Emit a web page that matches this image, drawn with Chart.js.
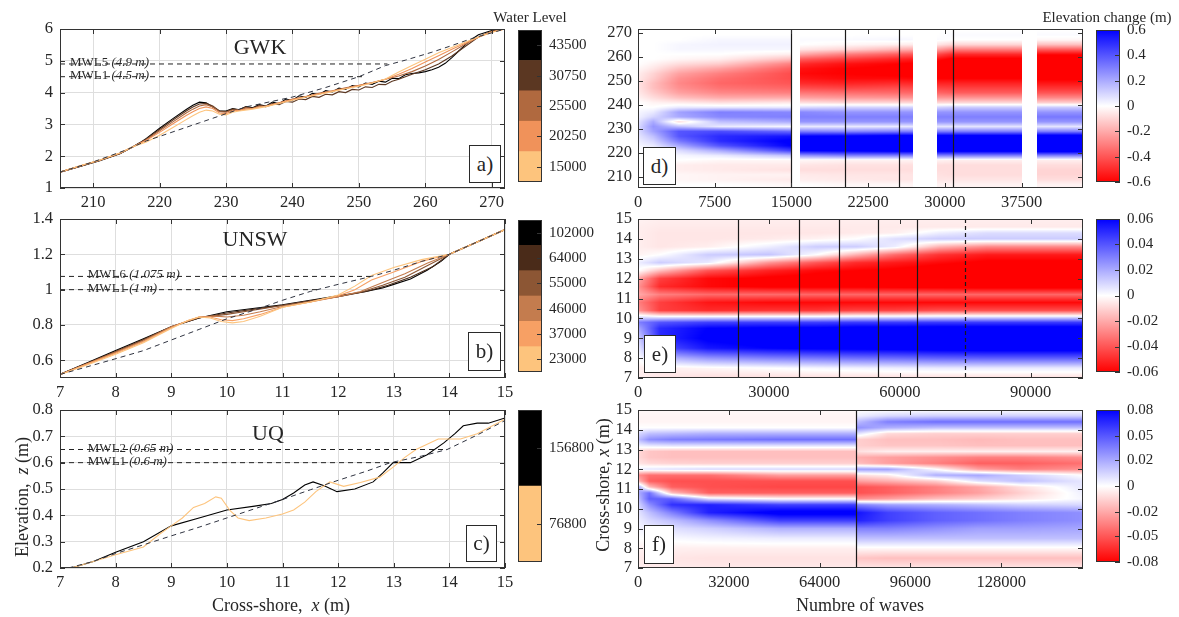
<!DOCTYPE html>
<html>
<head>
<meta charset="utf-8">
<title>Profile evolution and elevation change</title>
<script src="https://cdn.jsdelivr.net/npm/chart.js@4.4.1/dist/chart.umd.min.js"></script>
<style>
  html, body { margin: 0; padding: 0; background: #fff; }
  body { position: relative; width: 1179px; height: 617px; overflow: hidden;
         font-family: "Liberation Serif", "Times New Roman", serif; color: #262626; }
  canvas { position: absolute; }
  .lbl { position: absolute; z-index: 5; white-space: nowrap; line-height: 1; transform: translate(-50%, -50%); }
  .rot { transform: translate(-50%, -50%) rotate(-90deg); }
  .tag { position: absolute; z-index: 5; box-sizing: border-box; border: 1.3px solid #2a2a2a; background: #fff;
         font-size: 21px; line-height: 1; display: flex; align-items: center; justify-content: center; }
</style>
</head>
<body>
<div class="lbl" style="left:530px;top:17px;font-size:15px">Water Level</div>
<div class="lbl" style="left:1107px;top:17px;font-size:15px">Elevation change (m)</div>
<div class="lbl" style="left:260px;top:47px;font-size:22px">GWK</div>
<div class="lbl" style="left:255px;top:239px;font-size:22px">UNSW</div>
<div class="lbl" style="left:268px;top:433px;font-size:22px">UQ</div>
<div class="lbl" style="left:281px;top:605px;font-size:18px">Cross-shore,&nbsp; <i>x</i> (m)</div>
<div class="lbl" style="left:860px;top:605px;font-size:18px">Numbre of waves</div>
<div class="lbl rot" style="left:22px;top:497px;font-size:18px">Elevation,&nbsp; <i>z</i> (m)</div>
<div class="lbl rot" style="left:603px;top:485px;font-size:18px">Cross-shore, <i>x</i> (m)</div>
<div class="tag" style="left:469px;top:145px;width:32px;height:38px">a)</div>
<div class="tag" style="left:468px;top:332px;width:33px;height:39px">b)</div>
<div class="tag" style="left:466px;top:525px;width:31px;height:37px">c)</div>
<div class="tag" style="left:643px;top:147px;width:33px;height:38px">d)</div>
<div class="tag" style="left:644px;top:335px;width:32px;height:38px">e)</div>
<div class="tag" style="left:644px;top:525px;width:30px;height:39px">f)</div>

<script>
// === PANEL a : GWK profiles (x in m, z in m) ===
const aLevels = ['15000', '20250', '25500', '30750', '43500'];
const aColors = ['#fdc47d', '#f0925a', '#b0693f', '#5b3722', '#000000'];
const aXTicks = [210, 220, 230, 240, 250, 260, 270];
const aYTicks = [1, 2, 3, 4, 5, 6];
const aMwlLevels = [4.9, 4.5];
const aMwlEnds = [254.3, 251];
const aMwlNames = ['MWL5', 'MWL1'];
const aMwlText = ['4.9 m', '4.5 m'];
const aInit = [[205,1.5],[210,1.82],[215,2.2],[218,2.48],[226,3.05],[233,3.55],[240,3.86],[245,4.16],[250,4.5],[254,4.85],[257,5.02],[261,5.27],[264,5.48],[267,5.7],[272,6.0]];
const a15000 = [[205,1.5],[208,1.7],[211,1.88],[214,2.1],[216,2.3],[218,2.45],[220,2.66],[222,2.9],[224,3.15],[225,3.27],[226,3.38],[227,3.45],[228,3.42],[229,3.32],[230,3.3],[231,3.38],[232,3.42],[234,3.48],[236,3.56],[238,3.66],[240,3.76],[242,3.86],[244,3.94],[246,4.03],[248,4.12],[250,4.2],[252,4.3],[254,4.43],[256,4.65],[258,4.85],[260,5.05],[262,5.25],[264,5.42],[266,5.58],[268,5.75],[270,5.9],[272,6.0]];
const a20250 = [[205,1.5],[208,1.69],[211,1.87],[214,2.09],[216,2.3],[218,2.5],[220,2.75],[222,3.02],[224,3.28],[225,3.4],[226,3.5],[227,3.55],[228,3.5],[229,3.36],[230,3.34],[231,3.42],[232,3.45],[234,3.5],[236,3.58],[238,3.68],[240,3.78],[242,3.87],[244,3.96],[246,4.05],[248,4.13],[250,4.22],[252,4.31],[254,4.42],[256,4.58],[258,4.76],[260,4.96],[262,5.16],[264,5.36],[266,5.55],[268,5.74],[270,5.9],[272,6.0]];
const a25500 = [[205,1.5],[208,1.69],[211,1.87],[214,2.09],[216,2.3],[218,2.52],[220,2.8],[222,3.08],[224,3.36],[225,3.48],[226,3.58],[227,3.62],[228,3.55],[229,3.4],[230,3.38],[231,3.45],[232,3.44],[233,3.52],[234,3.5],[235,3.58],[236,3.56],[238,3.68],[240,3.8],[242,3.88],[244,3.98],[246,4.06],[248,4.15],[250,4.23],[252,4.32],[254,4.42],[256,4.52],[258,4.66],[260,4.84],[262,5.04],[264,5.28],[266,5.52],[268,5.75],[270,5.92],[272,6.0]];
const a30750 = [[205,1.5],[208,1.68],[211,1.87],[214,2.08],[216,2.3],[218,2.54],[220,2.84],[222,3.14],[224,3.42],[225,3.55],[226,3.64],[227,3.66],[228,3.58],[229,3.42],[230,3.4],[231,3.48],[232,3.45],[233,3.55],[234,3.5],[235,3.6],[236,3.56],[237,3.66],[238,3.62],[239,3.72],[240,3.7],[241,3.8],[242,3.78],[243,3.88],[244,3.85],[245,3.95],[246,3.93],[247,4.03],[248,4.0],[249,4.1],[250,4.08],[251,4.18],[252,4.16],[253,4.26],[254,4.25],[255,4.36],[256,4.42],[257,4.5],[258,4.58],[260,4.72],[262,4.9],[264,5.15],[266,5.45],[268,5.75],[270,5.93],[272,6.0]];
const a43500 = [[205,1.5],[208,1.68],[211,1.86],[214,2.08],[216,2.3],[217,2.42],[218,2.56],[220,2.88],[222,3.18],[224,3.47],[225,3.6],[226,3.7],[227,3.68],[228,3.55],[229,3.42],[230,3.42],[231,3.5],[232,3.46],[233,3.56],[234,3.52],[235,3.62],[236,3.58],[237,3.7],[238,3.65],[239,3.8],[240,3.76],[241,3.9],[242,3.85],[243,3.98],[244,3.94],[245,4.06],[246,4.02],[247,4.14],[248,4.1],[249,4.22],[250,4.18],[251,4.3],[252,4.26],[253,4.36],[254,4.33],[255,4.45],[256,4.44],[257,4.56],[258,4.6],[259,4.62],[260,4.66],[261,4.72],[262,4.8],[263,4.92],[264,5.1],[265,5.3],[266,5.5],[267,5.68],[268,5.82],[270,5.95],[272,6.0]];

// === PANEL b : UNSW profiles ===
const bLevels = ['23000', '37000', '46000', '55000', '64000', '102000'];
const bColors = ['#fdc47d', '#f7a064', '#c47c4e', '#8c5634', '#4a2b19', '#000000'];
const bXTicks = [7, 8, 9, 10, 11, 12, 13, 14, 15];
const bYTicks = [0.6, 0.8, 1, 1.2, 1.4];
const bMwlLevels = [1.075, 1.0];
const bMwlEnds = [12.58, 11.68];
const bMwlNames = ['MWL6', 'MWL1'];
const bMwlText = ['1.075 m', '1 m'];
const bInit = [[7,0.52],[7.9,0.6],[8.5,0.655],[9,0.715],[9.5,0.775],[10,0.835],[10.5,0.885],[11,0.94],[11.5,0.99],[12,1.03],[12.6,1.075],[13,1.11],[13.5,1.16],[14,1.2],[14.5,1.27],[15,1.34]];
const b23000 = [[7,0.52],[7.5,0.575],[8,0.635],[8.5,0.7],[9,0.78],[9.3,0.825],[9.5,0.845],[9.7,0.84],[9.9,0.82],[10.1,0.812],[10.3,0.82],[10.6,0.85],[11,0.9],[11.5,0.93],[12,0.97],[12.3,1.02],[12.6,1.08],[13,1.125],[13.5,1.17],[14,1.2],[14.5,1.27],[15,1.34]];
const b37000 = [[7,0.52],[7.5,0.58],[8,0.64],[8.5,0.705],[9,0.785],[9.3,0.825],[9.5,0.845],[9.7,0.845],[9.9,0.83],[10.1,0.825],[10.3,0.835],[10.6,0.86],[11,0.9],[11.5,0.93],[12,0.965],[12.3,1.0],[12.6,1.055],[13,1.1],[13.5,1.16],[14,1.2],[14.5,1.27],[15,1.34]];
const b46000 = [[7,0.52],[7.5,0.582],[8,0.645],[8.5,0.71],[9,0.79],[9.5,0.845],[9.8,0.85],[10,0.845],[10.3,0.855],[10.6,0.875],[11,0.905],[11.5,0.93],[12,0.96],[12.4,0.99],[12.8,1.04],[13.2,1.09],[13.6,1.15],[14,1.2],[14.5,1.27],[15,1.34]];
const b55000 = [[7,0.52],[7.5,0.584],[8,0.648],[8.5,0.715],[9,0.79],[9.5,0.842],[10,0.86],[10.5,0.885],[11,0.91],[11.5,0.935],[12,0.96],[12.4,0.985],[12.8,1.025],[13.2,1.07],[13.6,1.135],[14,1.2],[14.5,1.27],[15,1.34]];
const b64000 = [[7,0.52],[7.5,0.585],[8,0.65],[8.5,0.718],[9,0.79],[9.5,0.84],[10,0.868],[10.5,0.89],[11,0.912],[11.5,0.937],[12,0.96],[12.5,0.99],[12.9,1.025],[13.3,1.07],[13.7,1.13],[14,1.2],[14.5,1.27],[15,1.34]];
const b102000 = [[7,0.52],[7.5,0.587],[8,0.655],[8.5,0.722],[9,0.79],[9.5,0.84],[10,0.875],[10.5,0.895],[11,0.915],[11.5,0.94],[12,0.965],[12.5,0.99],[12.8,1.01],[13,1.03],[13.3,1.06],[13.6,1.11],[13.85,1.16],[14,1.2],[14.5,1.27],[15,1.34]];

// === PANEL c : UQ profiles ===
const cLevels = ['76800', '156800'];
const cColors = ['#fdc47d', '#000000'];
const cXTicks = [7, 8, 9, 10, 11, 12, 13, 14, 15];
const cYTicks = [0.2, 0.3, 0.4, 0.5, 0.6, 0.7, 0.8];
const cMwlLevels = [0.65, 0.6];
const cMwlEnds = [13.96, 12.94];
const cMwlNames = ['MWL2', 'MWL1'];
const cMwlText = ['0.65 m', '0.6 m'];
const cInit = [[7.15,0.2],[7.6,0.225],[8,0.255],[8.5,0.288],[9,0.322],[9.5,0.355],[10,0.39],[10.5,0.425],[11,0.46],[11.5,0.497],[12,0.533],[12.5,0.567],[12.94,0.6],[13.5,0.625],[13.96,0.65],[14.5,0.705],[15,0.76]];
const c76800 = [[7.2,0.2],[7.6,0.225],[8,0.25],[8.5,0.28],[8.8,0.33],[9,0.36],[9.2,0.39],[9.4,0.43],[9.6,0.445],[9.8,0.47],[9.9,0.465],[10.05,0.42],[10.2,0.39],[10.4,0.38],[10.7,0.39],[11,0.405],[11.2,0.42],[11.4,0.45],[11.6,0.49],[11.85,0.527],[12.1,0.51],[12.4,0.525],[12.75,0.545],[13,0.585],[13.2,0.62],[13.4,0.65],[13.8,0.69],[14.2,0.69],[14.5,0.71],[15,0.765]];
const c156800 = [[7.2,0.2],[7.6,0.225],[8,0.26],[8.5,0.3],[9,0.36],[9.5,0.39],[10,0.42],[10.5,0.435],[10.8,0.445],[11,0.46],[11.2,0.485],[11.4,0.515],[11.55,0.527],[11.75,0.512],[11.98,0.49],[12.3,0.5],[12.63,0.527],[12.8,0.56],[12.99,0.6],[13.3,0.6],[13.6,0.63],[13.9,0.675],[14.1,0.71],[14.25,0.74],[14.5,0.75],[14.7,0.75],[15,0.77]];

// === PANEL d : GWK elevation change, profiles (rows = cross-shore) at given wave counts ===
const dXTicks = [0, 7500, 15000, 22500, 30000, 37500];
const dYTicks = [210, 220, 230, 240, 250, 260, 270];
const dRows = [207,209,211,213,215,217,219,221,223,225,227,229,231,233,235,237,239,241,243,245,247,249,251,253,255,257,259,261,263,265,267,269,271];
const dP0 = [0,0,0,0,0,0,0,0,0.02,0.04,0.06,0.08,0.08,0.06,0.03,0.02,0,0,-0.03,-0.05,-0.06,-0.06,-0.05,-0.04,-0.02,0,0,0,0,0,0,0,0];
const dP1 = [0,0,0,-0.02,-0.02,0,0,0.02,0.05,0.1,0.15,0.22,0.25,0.2,0.1,0.05,0,-0.03,-0.08,-0.12,-0.15,-0.15,-0.12,-0.1,-0.06,-0.03,0,0,0,0,0,0,0];
const dP2 = [0,-0.02,-0.02,-0.04,-0.04,0,0.02,0.08,0.2,0.32,0.4,0.4,0.15,-0.08,0.2,0.22,0.05,-0.05,-0.15,-0.22,-0.26,-0.28,-0.26,-0.22,-0.15,-0.08,-0.02,0,0.02,0.02,0,0,0];
const dP3 = [0,-0.03,-0.03,-0.05,-0.05,-0.02,0.05,0.2,0.4,0.5,0.5,0.42,0.05,0.15,0.28,0.3,0.05,-0.08,-0.2,-0.28,-0.33,-0.36,-0.34,-0.3,-0.22,-0.12,-0.04,0,0.02,0.03,0.02,0,0];
const dP4 = [-0.02,-0.05,-0.03,-0.07,-0.05,-0.02,0.15,0.45,0.6,0.62,0.55,0.35,0.02,0.2,0.3,0.28,0.05,-0.06,-0.2,-0.3,-0.36,-0.4,-0.42,-0.42,-0.38,-0.3,-0.15,-0.04,0.02,0.03,0.02,0,0];
const dP5 = [0,-0.04,-0.05,-0.08,-0.06,-0.02,0.25,0.6,0.7,0.7,0.6,0.3,0.05,0.25,0.3,0.28,0.08,-0.08,-0.22,-0.32,-0.42,-0.5,-0.55,-0.58,-0.56,-0.5,-0.38,-0.2,-0.06,0,0.01,0,0];
const dP6 = [-0.02,-0.05,-0.06,-0.08,-0.07,-0.03,0.3,0.62,0.72,0.72,0.62,0.28,0.05,0.25,0.3,0.25,0.1,-0.1,-0.24,-0.34,-0.44,-0.52,-0.58,-0.6,-0.6,-0.56,-0.45,-0.3,-0.1,-0.02,0.01,0,0];
const dP7 = [-0.02,-0.06,-0.06,-0.08,-0.07,-0.03,0.3,0.65,0.75,0.75,0.65,0.3,0.05,0.25,0.3,0.25,0.1,-0.1,-0.25,-0.35,-0.42,-0.5,-0.58,-0.62,-0.62,-0.6,-0.52,-0.38,-0.18,-0.04,0.02,0,0];
const dP8 = [-0.03,-0.06,-0.07,-0.08,-0.08,-0.03,0.3,0.65,0.76,0.76,0.65,0.3,0.06,0.25,0.3,0.25,0.1,-0.1,-0.25,-0.36,-0.44,-0.52,-0.6,-0.64,-0.65,-0.64,-0.56,-0.42,-0.22,-0.06,0.01,0,0];
const dP9 = [-0.03,-0.06,-0.08,-0.08,-0.08,-0.04,0.3,0.65,0.78,0.78,0.65,0.3,0.06,0.25,0.3,0.25,0.12,-0.1,-0.25,-0.38,-0.45,-0.52,-0.6,-0.65,-0.68,-0.68,-0.62,-0.5,-0.3,-0.1,0,0.01,0];
const dP10 = [-0.03,-0.08,-0.1,-0.1,-0.08,-0.04,0.3,0.68,0.8,0.8,0.68,0.3,0.06,0.25,0.32,0.25,0.12,-0.12,-0.28,-0.4,-0.48,-0.55,-0.62,-0.68,-0.72,-0.72,-0.68,-0.58,-0.38,-0.15,-0.02,0.01,0];
const dTimes = [0, 1500, 4000, 8000, 15000, 15800, 20250, 25500, 29200, 30750, 37500, 39000, 43500];
const dGrid = [dP0, dP1, dP2, dP3, dP4, dP5, dP6, dP7, dP8, dP9, dP9, dP10, dP10];
const dGaps = [[15000, 15800], [26900, 29200], [37500, 39000]];
const dLines = [15000, 20250, 25500, 30750];
const dDashed = [];
const dCbTicks = [-0.6, -0.4, -0.2, 0, 0.2, 0.4, 0.6];
const dCbLabels = ['-0.6', '-0.4', '-0.2', '0', '0.2', '0.4', '0.6'];

// === PANEL e : UNSW elevation change ===
const eXTicks = [0, 30000, 60000, 90000];
const eYTicks = [7, 8, 9, 10, 11, 12, 13, 14, 15];
const eRows = [7.0,7.5,8.0,8.5,9.0,9.5,9.8,10.1,10.4,10.8,11.2,11.6,12.0,12.4,12.8,13.2,13.6,14.0,14.3,14.6,15.0];
const eP0 = [-0.004,-0.004,0,0.004,0.01,0.02,0.03,0.005,-0.025,-0.03,-0.02,-0.025,-0.02,0.0,0.004,-0.003,-0.004,-0.004,-0.004,-0.004,-0.003];
const eP1 = [-0.006,-0.004,0.015,0.04,0.05,0.05,0.04,0.0,-0.045,-0.045,-0.03,-0.05,-0.045,-0.015,0.012,0.0,-0.006,-0.006,-0.006,-0.005,-0.004];
const eP2 = [-0.008,-0.002,0.025,0.055,0.062,0.06,0.045,0.0,-0.05,-0.055,-0.035,-0.058,-0.058,-0.04,0.005,0.012,-0.004,-0.006,-0.006,-0.005,-0.004];
const eP3 = [-0.008,0.0,0.03,0.06,0.066,0.062,0.045,0.0,-0.048,-0.058,-0.035,-0.062,-0.062,-0.052,-0.025,0.014,0.004,-0.005,-0.006,-0.005,-0.004];
const eP4 = [-0.008,0.002,0.032,0.062,0.068,0.062,0.045,0.0,-0.048,-0.058,-0.036,-0.062,-0.064,-0.058,-0.04,0.0,0.012,-0.003,-0.006,-0.005,-0.004];
const eP5 = [-0.008,0.003,0.034,0.063,0.068,0.064,0.046,0.002,-0.045,-0.058,-0.036,-0.062,-0.065,-0.06,-0.05,-0.018,0.012,0.0,-0.005,-0.005,-0.004];
const eP6 = [-0.008,0.004,0.035,0.064,0.07,0.064,0.046,0.002,-0.045,-0.058,-0.036,-0.063,-0.066,-0.062,-0.054,-0.035,0.004,0.008,-0.004,-0.005,-0.004];
const eP7 = [-0.008,0.005,0.037,0.066,0.07,0.065,0.046,0.003,-0.042,-0.058,-0.036,-0.064,-0.068,-0.066,-0.058,-0.048,-0.018,0.012,0.004,-0.005,-0.004];
const eP8 = [-0.008,0.005,0.038,0.067,0.072,0.065,0.046,0.003,-0.042,-0.058,-0.036,-0.065,-0.07,-0.068,-0.062,-0.054,-0.028,0.012,0.008,-0.005,-0.004];
const eTimes = [0, 5000, 16000, 30000, 41000, 50000, 59000, 69000, 80000, 102000];
const eGrid = [eP0, eP1, eP2, eP3, eP4, eP5, eP6, eP7, eP8, eP8];
const eGaps = [];
const eLines = [23000, 37000, 46000, 55000, 64000, 75000];
const eDashed = [75000];
const eCbTicks = [-0.06, -0.04, -0.02, 0, 0.02, 0.04, 0.06];
const eCbLabels = ['-0.06', '-0.04', '-0.02', '0', '0.02', '0.04', '0.06'];

// === PANEL f : UQ elevation change ===
const fXTicks = [0, 32000, 64000, 96000, 128000];
const fYTicks = [7, 8, 9, 10, 11, 12, 13, 14, 15];
const fRows = [7.0,7.5,8.0,8.5,9.0,9.4,9.8,10.2,10.5,10.8,11.1,11.4,11.7,12.0,12.3,12.6,12.9,13.2,13.5,13.8,14.1,14.4,14.7,15.0];
const fP0 = [-0.005,-0.006,-0.004,0,0.003,0.005,0.008,0.012,0.018,0.025,0.03,-0.02,-0.035,0.005,-0.008,-0.012,-0.012,0.005,0.02,0.012,0,-0.003,-0.003,-0.002];
const fP1 = [-0.006,-0.008,-0.005,0,0.006,0.012,0.02,0.035,0.05,0.045,-0.02,-0.05,-0.045,0.008,-0.012,-0.018,-0.018,0.008,0.035,0.02,0,-0.003,-0.003,-0.002];
const fP2 = [-0.006,-0.008,-0.005,0.002,0.01,0.02,0.04,0.065,0.05,-0.02,-0.05,-0.055,-0.045,0.01,-0.014,-0.02,-0.02,0.01,0.04,0.022,0,-0.003,-0.003,-0.002];
const fP3 = [-0.007,-0.009,-0.005,0.004,0.015,0.035,0.07,0.07,0.01,-0.05,-0.055,-0.055,-0.045,0.012,-0.015,-0.02,-0.02,0.01,0.042,0.025,0,-0.003,-0.003,-0.002];
const fP4 = [-0.007,-0.009,-0.005,0.006,0.025,0.06,0.085,0.06,0.0,-0.05,-0.058,-0.055,-0.03,0.012,-0.015,-0.02,-0.02,0.01,0.045,0.025,0,-0.003,-0.003,-0.002];
const fP5 = [-0.008,-0.018,-0.002,0.02,0.04,0.07,0.075,0.04,-0.035,-0.055,-0.055,-0.03,-0.01,0.03,-0.02,-0.025,-0.01,-0.015,-0.015,0.01,0.035,0.02,0.005,0];
const fP6 = [-0.008,-0.02,-0.002,0.02,0.04,0.06,0.06,0.03,-0.03,-0.05,-0.05,-0.025,-0.005,0.03,-0.03,-0.03,-0.005,-0.018,-0.02,-0.012,0.025,0.04,0.012,0];
const fP7 = [-0.008,-0.02,-0.002,0.02,0.035,0.05,0.05,0.025,-0.02,-0.04,-0.04,-0.015,0.025,0.0,-0.04,-0.035,-0.005,-0.018,-0.02,-0.015,0.02,0.045,0.015,0];
const fP8 = [-0.008,-0.02,-0.002,0.02,0.03,0.045,0.045,0.02,-0.015,-0.03,-0.028,0.01,0.028,-0.03,-0.05,-0.04,-0.005,-0.02,-0.022,-0.015,0.02,0.045,0.015,0];
const fP9 = [-0.008,-0.02,-0.002,0.02,0.03,0.04,0.04,0.015,-0.008,-0.015,-0.01,0.02,0.015,-0.04,-0.05,-0.04,-0.005,-0.02,-0.02,-0.015,0.02,0.045,0.015,0];
const fP10 = [-0.008,-0.02,-0.002,0.02,0.028,0.035,0.035,0.012,0.003,0.005,0.008,0.008,0.0,-0.035,-0.045,-0.035,-0.005,-0.02,-0.02,-0.015,0.02,0.045,0.015,0];
const fTimes = [0, 4000, 12000, 25000, 50000, 76800, 76800, 88000, 105000, 120000, 135000, 156800];
const fGrid = [fP0, fP1, fP2, fP3, fP4, fP4, fP5, fP6, fP7, fP8, fP9, fP10];
const fGaps = [];
const fLines = [76800];
const fDashed = [];
const fCbTicks = [-0.08, -0.053, -0.027, 0, 0.027, 0.053, 0.08];
const fCbLabels = ['-0.08', '-0.05', '-0.02', '0', '0.02', '0.05', '0.08'];

// === LAYOUT (plot-area rectangles in page pixels: left, top, right, bottom) ===
const AREA = {
  a: [60, 29, 505, 188], b: [60, 219, 505, 378], c: [60, 410, 505, 568],
  d: [638, 29, 1083, 188], e: [638, 219, 1083, 378], f: [638, 410, 1083, 568],
  ca: [518, 30, 542, 188], cb: [518, 220, 542, 378], cc: [518, 410, 542, 568],
  cd: [1096, 30, 1120, 188], ce: [1096, 219, 1120, 378], cf: [1096, 410, 1120, 568]
};
const PANEL_M = [60, 22, 16, 32];   // room for y labels, top, right, x labels
const BAR_M = [4, 22, 62, 10];
const TICK_FONT = { family: 'Liberation Serif', size: 16.5 };
const BAR_FONT = { family: 'Liberation Serif', size: 15 };
const FRAME_COLOR = '#333';

Chart.defaults.font.family = 'Liberation Serif';
Chart.defaults.color = '#262626';

// === HELPERS ===
function makeCanvas(area, m) {
  const c = document.createElement('canvas');
  c.width = area[2] - area[0] + m[0] + m[2];
  c.height = area[3] - area[1] + m[1] + m[3];
  c.style.left = (area[0] - m[0]) + 'px';
  c.style.top = (area[1] - m[1]) + 'px';
  document.body.appendChild(c);
  return c;
}

const toXY = pts => pts.map(p => ({ x: p[0], y: p[1] }));

function heatRGB(t) {
  t = Math.max(-1, Math.min(1, t));
  if (t >= 0) { const k = Math.round(255 * (1 - t)); return [k, k, 255]; }
  const k = Math.round(255 * (1 + t));
  return [255, k, k];
}
const heatCss = t => 'rgb(' + heatRGB(t).join(',') + ')';

// box round the plot area with inward tick marks (MATLAB style)
function framePlugin(sides) {
  return {
    id: 'frame',
    afterDraw(chart) {
      const { ctx, chartArea: a, scales } = chart;
      const L = 5;
      ctx.save();
      ctx.strokeStyle = FRAME_COLOR;
      ctx.lineWidth = 1;
      ctx.strokeRect(Math.round(a.left) + 0.5, Math.round(a.top) + 0.5,
                     Math.round(a.right - a.left) - 1, Math.round(a.bottom - a.top) - 1);
      ctx.beginPath();
      if (sides.x) {
        scales.x.ticks.forEach(t => {
          const px = Math.round(scales.x.getPixelForValue(t.value)) + 0.5;
          ctx.moveTo(px, a.bottom); ctx.lineTo(px, a.bottom - L);
          ctx.moveTo(px, a.top); ctx.lineTo(px, a.top + L);
        });
      }
      scales.y.ticks.forEach(t => {
        const py = Math.round(scales.y.getPixelForValue(t.value)) + 0.5;
        if (sides.left) { ctx.moveTo(a.left, py); ctx.lineTo(a.left + L, py); }
        if (sides.right) { ctx.moveTo(a.right, py); ctx.lineTo(a.right - L, py); }
      });
      ctx.stroke();
      ctx.restore();
    }
  };
}

// "MWLn (z m)" labels sitting on the water level lines
function mwlPlugin(m) {
  return {
    id: 'mwl',
    afterDatasetsDraw(chart) {
      const { ctx, scales: { x, y } } = chart;
      ctx.save();
      ctx.fillStyle = '#2a2a2a';
      ctx.textBaseline = 'alphabetic';
      m.levels.forEach((lv, i) => {
        const px = x.getPixelForValue(m.textX);
        const py = y.getPixelForValue(lv) + 2;
        ctx.font = '13px "Liberation Serif"';
        const head = m.names[i] + ' ';
        ctx.fillText(head, px, py);
        const w = ctx.measureText(head).width;
        ctx.font = 'italic 13px "Liberation Serif"';
        ctx.fillText('(' + m.texts[i] + ')', px + w, py);
      });
      ctx.restore();
    }
  };
}

// elevation-change field: profiles at given wave counts, shaded pixel by pixel through the scales
function heatPlugin(h) {
  const rowVal = (col, v) => {
    const r = h.rows, n = r.length;
    if (v <= r[0]) return col[0];
    if (v >= r[n - 1]) return col[n - 1];
    let j = 0;
    while (v > r[j + 1]) j++;
    return col[j] + (col[j + 1] - col[j]) * (v - r[j]) / (r[j + 1] - r[j]);
  };
  return {
    id: 'heat',
    beforeDatasetsDraw(chart) {
      const { ctx, chartArea: a, scales: { x, y } } = chart;
      const L = Math.round(a.left), T = Math.round(a.top);
      const W = Math.round(a.right) - L, H = Math.round(a.bottom) - T;
      const off = document.createElement('canvas');
      off.width = W; off.height = H;
      const octx = off.getContext('2d');
      const img = octx.createImageData(W, H);
      const yv = [];
      for (let j = 0; j < H; j++) yv.push(y.getValueForPixel(T + j + 0.5));
      for (let i = 0; i < W; i++) {
        const xv = x.getValueForPixel(L + i + 0.5);
        const inGap = h.gaps.some(g => xv >= g[0] && xv < g[1]);
        let k = 0;
        while (k < h.times.length - 2 && xv >= h.times[k + 1]) k++;
        const t0 = h.times[k], t1 = h.times[k + 1];
        const f = t1 > t0 ? Math.max(0, Math.min(1, (xv - t0) / (t1 - t0))) : 1;
        const A = h.grid[k], B = h.grid[k + 1];
        for (let j = 0; j < H; j++) {
          const p = (j * W + i) * 4;
          let rgb = [255, 255, 255];
          if (!inGap) {
            const va = rowVal(A, yv[j]), vb = rowVal(B, yv[j]);
            rgb = heatRGB((va + (vb - va) * f) / h.max);
          }
          img.data[p] = rgb[0]; img.data[p + 1] = rgb[1]; img.data[p + 2] = rgb[2]; img.data[p + 3] = 255;
        }
      }
      octx.putImageData(img, 0, 0);
      ctx.save();
      ctx.drawImage(off, L, T);
      ctx.strokeStyle = '#1a1a1a';
      ctx.lineWidth = 1.2;
      h.lines.forEach(v => {
        const px = Math.round(x.getPixelForValue(v)) + 0.5;
        ctx.setLineDash(h.dashed.includes(v) ? [4, 3] : []);
        ctx.beginPath();
        ctx.moveTo(px, a.top);
        ctx.lineTo(px, a.bottom);
        ctx.stroke();
      });
      ctx.restore();
    }
  };
}

function axis(min, max, ticks, fit) {
  return {
    type: 'linear', min, max,
    afterBuildTicks: s => { s.ticks = ticks.map(v => ({ value: v })); },
    afterFit: fit,
    ticks: { font: TICK_FONT, color: '#262626', autoSkip: false, maxRotation: 0,
             callback: v => String(v) },
    grid: { color: '#dedede', drawTicks: false },
    border: { display: false }
  };
}

function baseOptions(m) {
  return {
    responsive: false, animation: false, events: [],
    layout: { padding: { left: 0, top: m[1], right: m[2], bottom: 0 } },
    elements: { point: { radius: 0 }, line: { tension: 0, fill: false } },
    plugins: { legend: { display: false }, tooltip: { enabled: false } }
  };
}

// === PROFILE PANELS ===
function profileChart(area, xr, yr, xTicks, yTicks, curves, colors, init, mwl) {
  const canvas = makeCanvas(area, PANEL_M);
  const datasets = [];
  mwl.levels.forEach((lv, i) => datasets.push({
    data: [{ x: xr[0], y: lv }, { x: mwl.ends[i], y: lv }],
    borderColor: '#222', borderWidth: 1, borderDash: [5, 4]
  }));
  datasets.push({ data: toXY(init), borderColor: '#2f3340', borderWidth: 1, borderDash: [5, 4] });
  curves.forEach((c, i) => datasets.push({ data: toXY(c), borderColor: colors[i], borderWidth: 1.1 }));
  const options = baseOptions(PANEL_M);
  options.scales = {
    x: axis(xr[0], xr[1], xTicks, s => { s.height = PANEL_M[3]; }),
    y: axis(yr[0], yr[1], yTicks, s => { s.width = PANEL_M[0]; })
  };
  options.scales.x.ticks.padding = 5;
  options.scales.y.ticks.padding = 7;
  return new Chart(canvas, {
    type: 'line', data: { datasets }, options,
    plugins: [mwlPlugin(mwl), framePlugin({ x: true, left: true, right: true })]
  });
}

// === HEATMAP PANELS ===
function heatChart(area, xr, yr, xTicks, yTicks, heat) {
  const canvas = makeCanvas(area, PANEL_M);
  const options = baseOptions(PANEL_M);
  options.scales = {
    x: axis(xr[0], xr[1], xTicks, s => { s.height = PANEL_M[3]; }),
    y: axis(yr[0], yr[1], yTicks, s => { s.width = PANEL_M[0]; })
  };
  options.scales.x.grid = { display: false, drawTicks: false };
  options.scales.y.grid = { display: false, drawTicks: false };
  options.scales.x.ticks.padding = 5;
  options.scales.y.ticks.padding = 6;
  return new Chart(canvas, {
    type: 'line', data: { datasets: [] }, options,
    plugins: [heatPlugin(heat), framePlugin({ x: true, left: true, right: true })]
  });
}

// === COLOUR BARS ===
function barOptions() {
  return {
    responsive: false, animation: false, events: [],
    layout: { padding: { left: BAR_M[0], top: BAR_M[1], right: 0, bottom: BAR_M[3] } },
    plugins: { legend: { display: false }, tooltip: { enabled: false } }
  };
}

function levelBar(area, levels, colors) {
  const canvas = makeCanvas(area, BAR_M);
  const options = barOptions();
  options.scales = {
    x: { stacked: true, display: false },
    y: {
      stacked: true, position: 'right', min: 0, max: levels.length,
      afterBuildTicks: s => { s.ticks = levels.map((v, i) => ({ value: i + 0.5 })); },
      afterFit: s => { s.width = BAR_M[2]; },
      ticks: { font: BAR_FONT, color: '#262626', padding: 7, autoSkip: false, callback: (v, i) => levels[i] },
      grid: { display: false, drawTicks: false }, border: { display: false }
    }
  };
  return new Chart(canvas, {
    type: 'bar',
    data: {
      labels: [''],
      datasets: levels.map((lv, i) => ({ data: [1], backgroundColor: colors[i], borderWidth: 0,
                                         barPercentage: 1, categoryPercentage: 1 }))
    },
    options,
    plugins: [framePlugin({ x: false, left: false, right: true })]
  });
}

function gradientBar(area, ticks, labels) {
  const canvas = makeCanvas(area, BAR_M);
  const lo = ticks[0], hi = ticks[ticks.length - 1];
  const options = barOptions();
  options.scales = {
    x: { display: false },
    y: {
      position: 'right', min: lo, max: hi,
      afterBuildTicks: s => { s.ticks = ticks.map(v => ({ value: v })); },
      afterFit: s => { s.width = BAR_M[2]; },
      ticks: { font: BAR_FONT, color: '#262626', padding: 7, autoSkip: false, callback: (v, i) => labels[i] },
      grid: { display: false, drawTicks: false }, border: { display: false }
    }
  };
  const fillGradient = context => {
    const ca = context.chart.chartArea;
    if (!ca) return '#fff';
    const g = context.chart.ctx.createLinearGradient(0, ca.bottom, 0, ca.top);
    for (let k = 0; k <= 20; k++) g.addColorStop(k / 20, heatCss(k / 10 - 1));
    return g;
  };
  return new Chart(canvas, {
    type: 'bar',
    data: { labels: [''], datasets: [{ data: [[lo, hi]], backgroundColor: fillGradient, borderWidth: 0,
                                       barPercentage: 1, categoryPercentage: 1 }] },
    options,
    plugins: [framePlugin({ x: false, left: false, right: true })]
  });
}

// === BUILD ===
profileChart(AREA.a, [205, 272], [1, 6], aXTicks, aYTicks,
  [a15000, a20250, a25500, a30750, a43500], aColors, aInit,
  { levels: aMwlLevels, ends: aMwlEnds, names: aMwlNames, texts: aMwlText, textX: 206.5 });
profileChart(AREA.b, [7, 15], [0.5, 1.4], bXTicks, bYTicks,
  [b23000, b37000, b46000, b55000, b64000, b102000], bColors, bInit,
  { levels: bMwlLevels, ends: bMwlEnds, names: bMwlNames, texts: bMwlText, textX: 7.5 });
profileChart(AREA.c, [7, 15], [0.2, 0.8], cXTicks, cYTicks,
  [c76800, c156800], cColors, cInit,
  { levels: cMwlLevels, ends: cMwlEnds, names: cMwlNames, texts: cMwlText, textX: 7.5 });

levelBar(AREA.ca, aLevels, aColors);
levelBar(AREA.cb, bLevels, bColors);
levelBar(AREA.cc, cLevels, cColors);

heatChart(AREA.d, [0, 43500], [205.5, 271.5], dXTicks, dYTicks,
  { rows: dRows, times: dTimes, grid: dGrid, gaps: dGaps, max: 0.6, lines: dLines, dashed: dDashed });
heatChart(AREA.e, [0, 102000], [7, 15], eXTicks, eYTicks,
  { rows: eRows, times: eTimes, grid: eGrid, gaps: eGaps, max: 0.06, lines: eLines, dashed: eDashed });
heatChart(AREA.f, [0, 156800], [7, 15], fXTicks, fYTicks,
  { rows: fRows, times: fTimes, grid: fGrid, gaps: fGaps, max: 0.08, lines: fLines, dashed: fDashed });

gradientBar(AREA.cd, dCbTicks, dCbLabels);
gradientBar(AREA.ce, eCbTicks, eCbLabels);
gradientBar(AREA.cf, fCbTicks, fCbLabels);
</script>
</body>
</html>
